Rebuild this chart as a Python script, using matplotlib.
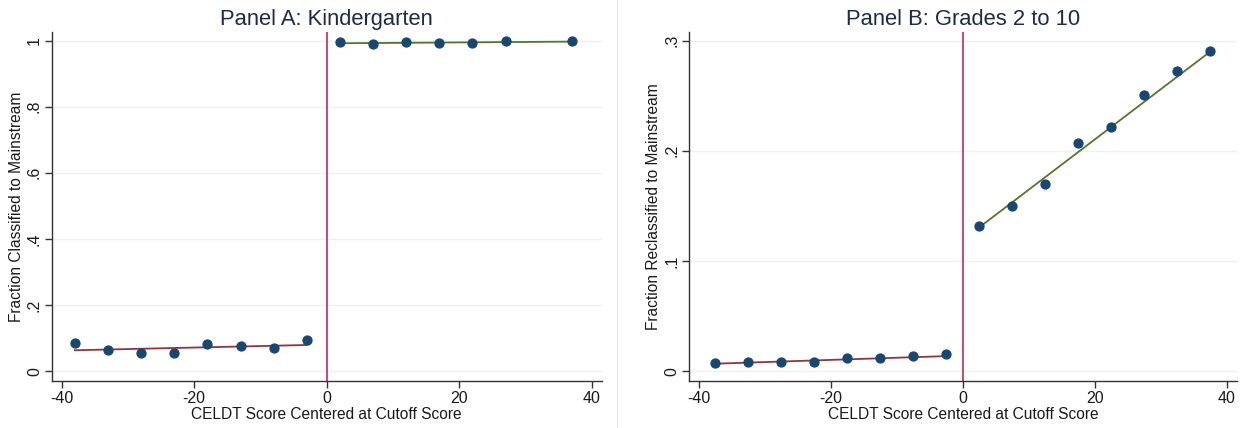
import matplotlib
matplotlib.use("Agg")
import matplotlib.pyplot as plt
from matplotlib.lines import Line2D
import numpy as np

plt.rcParams['font.family'] = ['Liberation Sans', 'DejaVu Sans']

# Panel A: Kindergarten
a_left_x = [-38, -33, -28, -23, -18, -13, -8, -3]
a_left_y = [0.084, 0.064, 0.056, 0.056, 0.082, 0.076, 0.071, 0.094]
a_right_x = [2, 7, 12, 17, 22, 27, 37]
a_right_y = [0.996, 0.990, 0.996, 0.994, 0.992, 1.000, 0.998]
a_fit_left = ([-38, -3], [0.063, 0.079])
a_fit_right = ([2, 37], [0.992, 0.997])

# Panel B: Grades 2 to 10
b_left_x = [-37.5, -32.5, -27.5, -22.5, -17.5, -12.5, -7.5, -2.5]
b_left_y = [0.0070, 0.0085, 0.0079, 0.0085, 0.0118, 0.0115, 0.0133, 0.0151]
b_right_x = [2.5, 7.5, 12.5, 17.5, 22.5, 27.5, 32.5, 37.5]
b_right_y = [0.1317, 0.1499, 0.1698, 0.2074, 0.2219, 0.2501, 0.2725, 0.2906]
b_fit_left = ([-37.5, -2.5], [0.0067, 0.0136])
b_fit_right = ([2.5, 37.5], [0.1305, 0.2900])

x_ticks = [-40, -20, 0, 20, 40]
a_yticks = [0, 0.2, 0.4, 0.6, 0.8, 1.0]
a_ylabels = ["0", ".2", ".4", ".6", ".8", "1"]
b_yticks = [0, 0.1, 0.2, 0.3]
b_ylabels = ["0", ".1", ".2", ".3"]

NAVY = "#1a476f"
MAROON = "#90353b"
GREEN = "#55752f"
VLINE = "#c4285a"
GRID = "#eaf2f3"
TEXT = "#1a1a1a"
TITLE = "#1e2a4a"

W, H = 1247, 428
fig = plt.figure(figsize=(W / 100, H / 100), dpi=100)
fig.patch.set_facecolor("white")

def make_axes(px_left, px_right, px_top, px_bottom):
    return fig.add_axes([px_left / W, 1 - px_bottom / H,
                         (px_right - px_left) / W, (px_bottom - px_top) / H])

axA = make_axes(51.7, 601.7, 31.7, 381)
axB = make_axes(689, 1236.7, 31.7, 381)

panels = [
    (axA, a_left_x, a_left_y, a_right_x, a_right_y, a_fit_left, a_fit_right,
     a_yticks, a_ylabels, (-0.030, 1.027), "Panel A: Kindergarten",
     "Fraction Classified to Mainstream"),
    (axB, b_left_x, b_left_y, b_right_x, b_right_y, b_fit_left, b_fit_right,
     b_yticks, b_ylabels, (-0.009, 0.308), "Panel B: Grades 2 to 10",
     "Fraction Reclassified to Mainstream"),
]

for (ax, lx, ly, rx, ry, fl, fr, yt, yl, ylim, title, ylab) in panels:
    ax.set_xlim(-41.5, 41.5)
    ax.set_ylim(*ylim)
    for y in yt:
        ax.axhline(y, color=GRID, lw=1.0, zorder=0)
    ax.axvline(0, color=VLINE, lw=1.2, zorder=1)
    ax.plot(fl[0], fl[1], color=MAROON, lw=1.3, zorder=2)
    ax.plot(fr[0], fr[1], color=GREEN, lw=1.3, zorder=2)
    ax.plot(lx, ly, 'o', color=NAVY, ms=6.4, mec=NAVY, zorder=3)
    ax.plot(rx, ry, 'o', color=NAVY, ms=6.4, mec=NAVY, zorder=3)
    ax.set_xticks(x_ticks)
    ax.set_xticklabels([str(t) for t in x_ticks])
    ax.set_yticks(yt)
    ax.set_yticklabels(yl, rotation=90, va='center')
    for s in ['top', 'right']:
        ax.spines[s].set_visible(False)
    for s in ['left', 'bottom']:
        ax.spines[s].set_color("#333333")
        ax.spines[s].set_linewidth(1.0)
    ax.tick_params(direction='out', length=5, width=1.0, color="#333333",
                   labelsize=11.5, labelcolor=TEXT, pad=2)
    ax.set_xlabel("CELDT Score Centered at Cutoff Score", fontsize=11.2,
                  color=TEXT, labelpad=1)
    ax.set_ylabel(ylab, fontsize=11.2, color=TEXT, labelpad=2)
    ax.set_title(title, fontsize=15.8, color=TITLE, pad=5)

fig.add_artist(Line2D([616.7 / W, 616.7 / W], [0, 1], color="#e6e6e6", lw=0.8,
                      transform=fig.transFigure))

fig.savefig("out.png", dpi=100, facecolor="white")
